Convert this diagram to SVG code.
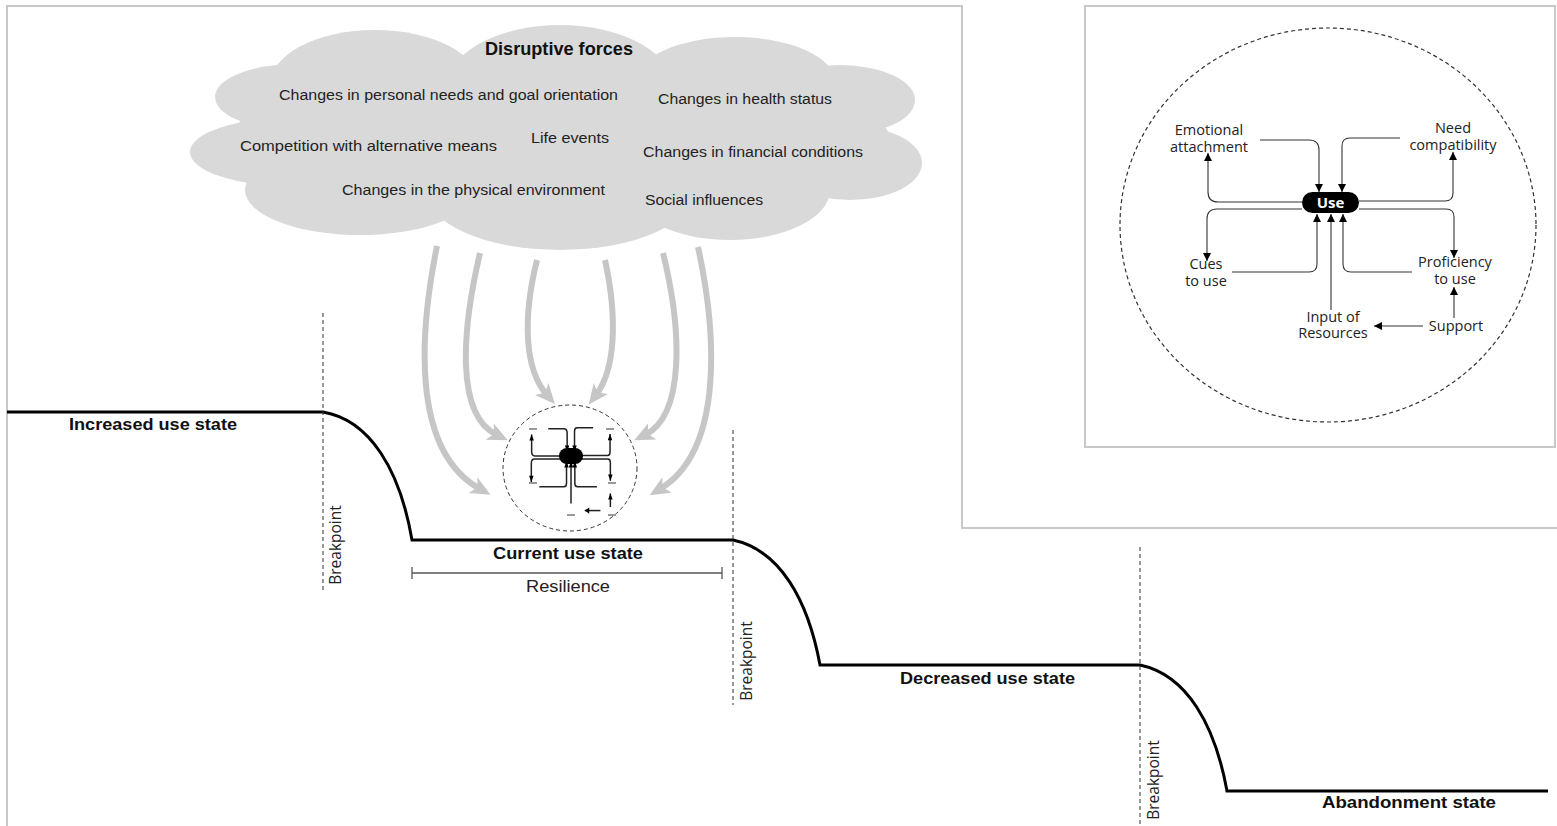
<svg xmlns="http://www.w3.org/2000/svg" width="1557" height="826" viewBox="0 0 1557 826">
<style>
.frame{fill:none;stroke:#c8c8c8;stroke-width:2}
.cloud ellipse{fill:#d9d9d9}
.ctext{font-family:"Liberation Sans",Arial,sans-serif;font-size:14px;fill:#222}
.head{font-family:"Liberation Sans",Arial,sans-serif;font-size:18px;font-weight:bold;fill:#111}
.state{font-family:"Liberation Sans",Arial,sans-serif;font-size:17px;font-weight:bold;fill:#111}
.res{font-family:"Liberation Sans",Arial,sans-serif;font-size:16px;fill:#222}
.bp{font-family:"Open Sans","Liberation Sans",sans-serif;font-size:15.5px;fill:#222}
.lab{font-family:"Open Sans","Liberation Sans",sans-serif;font-size:14.5px;fill:#222;text-anchor:middle}
.step{fill:none;stroke:#000;stroke-width:3}
.dash{fill:none;stroke:#333;stroke-width:1;stroke-dasharray:4 3}
.garrow{fill:none;stroke:#c6c6c6;stroke-width:6;marker-end:url(#gh)}
.link{fill:none;stroke:#333;stroke-width:1.1;marker-end:url(#ah)}
.mlink{fill:none;stroke:#222;stroke-width:1.5;vector-effect:non-scaling-stroke;marker-end:url(#mh)}
.mlab{stroke:#999;stroke-width:2}
</style>
<defs>
<marker id="gh" viewBox="0 0 20 18" refX="8" refY="9" markerWidth="20" markerHeight="18" markerUnits="userSpaceOnUse" orient="auto"><path d="M0,0 L20,9 L0,18 L5,9 z" fill="#c6c6c6"/></marker>
<marker id="ah" viewBox="0 0 10 10" refX="10" refY="5" markerWidth="8" markerHeight="8" markerUnits="userSpaceOnUse" orient="auto"><path d="M0,0 L10,5 L0,10 z" fill="#000"/></marker>
<marker id="mh" viewBox="0 0 10 10" refX="10" refY="5" markerWidth="16" markerHeight="14" markerUnits="userSpaceOnUse" orient="auto"><path d="M0,0 L10,5 L0,10 z" fill="#000"/></marker>
</defs>
<rect width="1557" height="826" fill="#fff"/>
<g id="frames">
<polyline class="frame" points="7,826 7,6 962,6 962,528 1557,528"/>
<rect class="frame" x="1085" y="6" width="470" height="441"/>
</g>
<g id="cloud" class="cloud">
<ellipse cx="560" cy="140" rx="330" ry="75"/>
<ellipse cx="560" cy="90" rx="115" ry="65"/>
<ellipse cx="375" cy="85" rx="105" ry="55"/>
<ellipse cx="295" cy="97" rx="80" ry="33"/>
<ellipse cx="290" cy="152" rx="100" ry="34"/>
<ellipse cx="735" cy="82" rx="100" ry="45"/>
<ellipse cx="840" cy="100" rx="75" ry="35"/>
<ellipse cx="850" cy="163" rx="72" ry="37"/>
<ellipse cx="360" cy="190" rx="115" ry="45"/>
<ellipse cx="560" cy="190" rx="135" ry="60"/>
<ellipse cx="730" cy="190" rx="100" ry="50"/>
<text class="head" x="485" y="55" textLength="148" lengthAdjust="spacingAndGlyphs">Disruptive forces</text>
<text class="ctext" x="279" y="100" textLength="339" lengthAdjust="spacingAndGlyphs">Changes in personal needs and goal orientation</text>
<text class="ctext" x="658" y="104" textLength="174" lengthAdjust="spacingAndGlyphs">Changes in health status</text>
<text class="ctext" x="240" y="151" textLength="257" lengthAdjust="spacingAndGlyphs">Competition with alternative means</text>
<text class="ctext" x="531" y="143" textLength="78" lengthAdjust="spacingAndGlyphs">Life events</text>
<text class="ctext" x="643" y="157" textLength="220" lengthAdjust="spacingAndGlyphs">Changes in financial conditions</text>
<text class="ctext" x="342" y="195" textLength="263" lengthAdjust="spacingAndGlyphs">Changes in the physical environment</text>
<text class="ctext" x="645" y="205" textLength="118" lengthAdjust="spacingAndGlyphs">Social influences</text>
</g>
<g id="trajectory">
<path class="step" d="M7,412 H323 C370,420 400,470 412,540 H733 C780,550 808,600 820,665 H1140 C1187,675 1215,725 1227,791 H1548"/>
<line class="dash" x1="323" y1="313" x2="323" y2="592"/>
<line class="dash" x1="733" y1="430" x2="733" y2="705"/>
<line class="dash" x1="1140" y1="547" x2="1140" y2="826"/>
<text class="bp" transform="translate(341,545) rotate(-90)" text-anchor="middle">Breakpoint</text>
<text class="bp" transform="translate(752,661) rotate(-90)" text-anchor="middle">Breakpoint</text>
<text class="bp" transform="translate(1159,780) rotate(-90)" text-anchor="middle">Breakpoint</text>
</g>
<g id="state-increased"><text class="state" x="69" y="430" textLength="168" lengthAdjust="spacingAndGlyphs">Increased use state</text></g>
<g id="state-current"><text class="state" x="493" y="559" textLength="150" lengthAdjust="spacingAndGlyphs">Current use state</text></g>
<g id="state-decreased"><text class="state" x="900" y="684" textLength="175" lengthAdjust="spacingAndGlyphs">Decreased use state</text></g>
<g id="state-abandonment"><text class="state" x="1322" y="808" textLength="174" lengthAdjust="spacingAndGlyphs">Abandonment state</text></g>
<g id="resilience">
<path d="M412,573 H722 M412,567 V579 M722,567 V579" fill="none" stroke="#555" stroke-width="1.3"/>
<text class="res" x="526" y="592" textLength="84" lengthAdjust="spacingAndGlyphs">Resilience</text>
</g>
<g id="connectors">
<path class="garrow" d="M437,246 C420,330 410,450 480,489"/>
<path class="garrow" d="M480,253 C462,330 455,415 497,435"/>
<path class="garrow" d="M537,260 C522,320 525,370 547,395"/>
<path class="garrow" d="M605,260 C618,320 615,370 596,395"/>
<path class="garrow" d="M663,253 C682,330 685,415 645,435"/>
<path class="garrow" d="M698,247 C716,330 725,450 660,489"/>
</g>
<g id="mini-inset">
<ellipse class="dash" cx="570" cy="468" rx="67" ry="63"/>
<g transform="translate(571,456) scale(0.32,0.44) translate(-1331,-202)">
<path class="mlink" d="M1260,140 H1309 Q1319,140 1319,150 V192"/>
<path class="mlink" d="M1302,202 H1218 Q1208,202 1208,192 V153"/>
<path class="mlink" d="M1400,138 H1350 Q1342,138 1342,146 V192"/>
<path class="mlink" d="M1359,201 H1445 Q1453,201 1453,193 V152"/>
<path class="mlink" d="M1302,209 H1217 Q1207,209 1207,219 V261"/>
<path class="mlink" d="M1232,272 H1309 Q1317,272 1317,264 V214"/>
<path class="mlink" d="M1331,310 V214"/>
<path class="mlink" d="M1412,272 H1351 Q1343,272 1343,264 V214"/>
<path class="mlink" d="M1359,209 H1446 Q1454,209 1454,217 V258"/>
<path class="mlink" d="M1454,318 V287"/>
<path class="mlink" d="M1423,326 H1374"/>
</g>
<rect x="559" y="448" width="24" height="16" rx="8" fill="#000"/>
<path class="mlab" d="M529,429 h8 M606,429 h8 M529,483 h8 M608,483 h8 M567,515 h8 M608,515 h8"/>
</g>
<g id="inset">
<ellipse cx="1328" cy="225" rx="208" ry="197" fill="none" stroke="#333" stroke-width="1.2" stroke-dasharray="4 3"/>
<g id="inset-links">
<path class="link" d="M1260,140 H1309 Q1319,140 1319,150 V192"/>
<path class="link" d="M1302,202 H1218 Q1208,202 1208,192 V153"/>
<path class="link" d="M1400,138 H1350 Q1342,138 1342,146 V192"/>
<path class="link" d="M1359,201 H1445 Q1453,201 1453,193 V152"/>
<path class="link" d="M1302,209 H1217 Q1207,209 1207,219 V261"/>
<path class="link" d="M1232,272 H1309 Q1317,272 1317,264 V214"/>
<path class="link" d="M1331,310 V214"/>
<path class="link" d="M1412,272 H1351 Q1343,272 1343,264 V214"/>
<path class="link" d="M1359,209 H1446 Q1454,209 1454,217 V258"/>
<path class="link" d="M1454,318 V287"/>
<path class="link" d="M1423,326 H1374"/>
</g>
<g id="node-use"><rect x="1302" y="192" width="57" height="21" rx="10.5" fill="#000"/><text x="1330.5" y="208" text-anchor="middle" font-family="'Open Sans','Liberation Sans',sans-serif" font-size="15" font-weight="bold" fill="#fff">Use</text></g>
<g id="node-emotional"><text class="lab" x="1209" y="135">Emotional</text><text class="lab" x="1209" y="152">attachment</text></g>
<g id="node-need"><text class="lab" x="1453" y="133">Need</text><text class="lab" x="1453" y="150">compatibility</text></g>
<g id="node-cues"><text class="lab" x="1206" y="269">Cues</text><text class="lab" x="1206" y="286">to use</text></g>
<g id="node-proficiency"><text class="lab" x="1455" y="267">Proficiency</text><text class="lab" x="1455" y="284">to use</text></g>
<g id="node-input"><text class="lab" x="1333" y="322">Input of</text><text class="lab" x="1333" y="338">Resources</text></g>
<g id="node-support"><text class="lab" x="1456" y="331">Support</text></g>
</g>
</svg>
